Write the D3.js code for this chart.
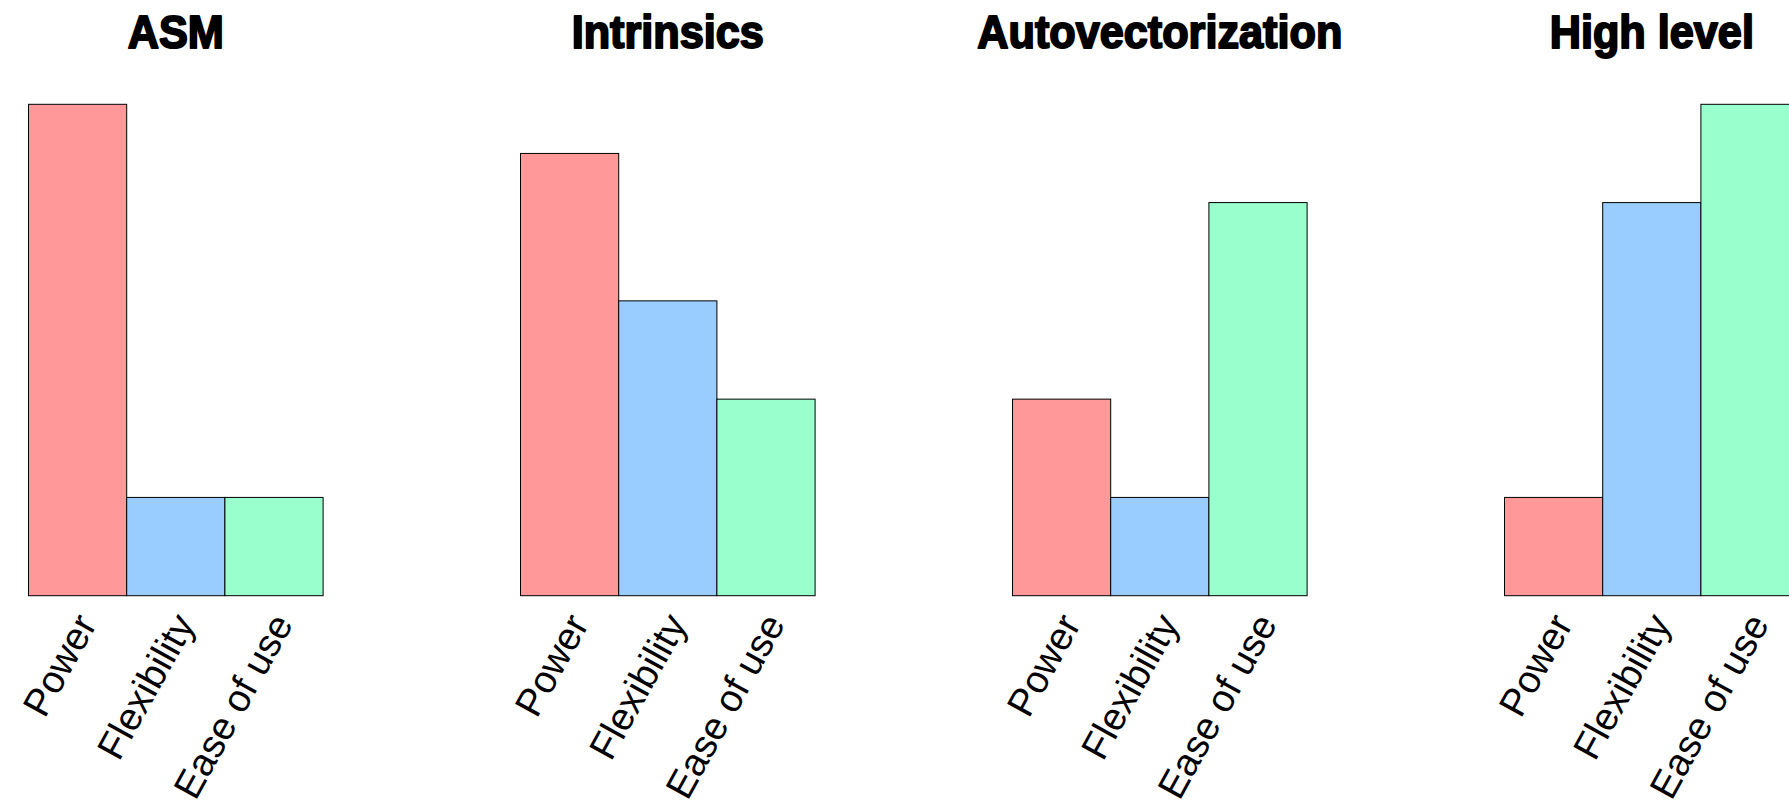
<!DOCTYPE html>
<html>
<head>
<meta charset="utf-8">
<script src="https://cdn.jsdelivr.net/npm/d3@7/dist/d3.min.js"></script>
<style>
  html, body { margin: 0; padding: 0; background: #fff; overflow: hidden; }
  svg { display: block; }
</style>
</head>
<body>
<svg id="chart" width="1789" height="802"></svg>
<script>
const panels = ["ASM", "Intrinsics", "Autovectorization", "High level"];
const categories = ["Power", "Flexibility", "Ease of use"];
const power = [5, 4.5, 2, 1];
const flexibility = [1, 3, 1, 4];
const easeOfUse = [1, 2, 4, 5];
const colors = ["#ff9999", "#99ccff", "#99ffcc"];

const W = 1789, H = 802;
const svg = d3.select("#chart");

const panelStart = 28.5, panelStep = 492, bandW = 98.2;
const baseY = 595.7, topY = 104.3;

const y = d3.scaleLinear().domain([0, 5]).range([baseY, topY]);
const seriesByCat = [power, flexibility, easeOfUse];

panels.forEach((name, i) => {
  const x0 = panelStart + panelStep * i;
  const x = d3.scaleBand().domain(categories).range([x0, x0 + bandW * 3]).padding(0);
  const g = svg.append("g");

  g.selectAll("rect")
    .data(categories.map((c, k) => ({ c, v: seriesByCat[k][i], k })))
    .join("rect")
    .attr("x", d => x(d.c))
    .attr("y", d => y(d.v))
    .attr("width", x.bandwidth())
    .attr("height", d => y(0) - y(d.v))
    .attr("fill", d => colors[d.k])
    .attr("stroke", "#000")
    .attr("stroke-width", 1);

  const ax = g.append("g")
    .attr("transform", `translate(0,${baseY})`)
    .call(d3.axisBottom(x).tickSize(0).tickPadding(0));
  ax.select(".domain").remove();
  ax.selectAll("text")
    .attr("font-family", "'Liberation Sans', Arial, sans-serif")
    .attr("font-size", 38.5)
    .attr("fill", "#000")
    .attr("text-anchor", "end")
    .attr("dy", null)
    .attr("y", 0)
    .attr("transform", "translate(20,28) rotate(-61)");

  const cx = x0 + bandW * 1.5;
  g.append("text")
    .attr("transform", `translate(${cx},48) scale(0.94,1)`)
    .attr("text-anchor", "middle")
    .attr("font-family", "'Liberation Sans', Arial, sans-serif")
    .attr("font-weight", "bold")
    .attr("font-size", 46)
    .attr("fill", "#000")
    .attr("stroke", "#000")
    .attr("stroke-width", 2)
    .attr("stroke-linejoin", "round")
    .text(name);
});
</script>
</body>
</html>
